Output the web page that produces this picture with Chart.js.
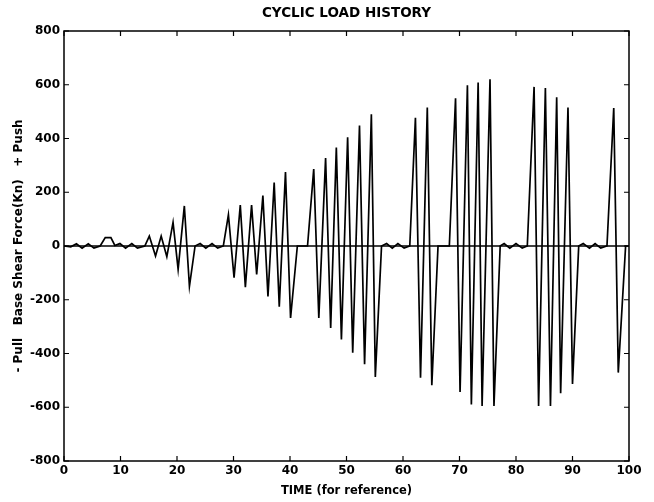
<!DOCTYPE html>
<html>
<head>
<meta charset="utf-8">
<title>Cyclic Load History</title>
<script src="https://cdn.jsdelivr.net/npm/chart.js@4.4.1/dist/chart.umd.min.js"></script>
<style>
    body { margin: 0; background: #fff; }
    canvas { display: block; }
</style>
</head>
<body>
<canvas id="loadChart" width="654" height="502"></canvas>
<script>
// Time samples (for reference) and base shear force (kN)
const times = [
    0, 1.2, 2.2, 3.2, 4.3, 5.3, 6.4, 7.3, 8.3, 9.0,
    9.9, 10.9, 12.0, 13.0, 14.3, 15.1, 16.2, 17.2, 18.2, 19.3,
    20.2, 21.3, 22.2, 23.2, 24.1, 25.1, 26.2, 27.2, 28.2, 29.1,
    30.1, 31.2, 32.1, 33.2, 34.1, 35.2, 36.1, 37.2, 38.1, 39.2,
    40.1, 41.3, 43.1, 44.2, 45.1, 46.3, 47.2, 48.2, 49.1, 50.2,
    51.1, 52.3, 53.2, 54.4, 55.1, 56.2, 57.1, 58.1, 59.1, 60.2,
    61.2, 62.2, 63.1, 64.3, 65.1, 66.2, 68.2, 69.3, 70.1, 71.4,
    72.1, 73.3, 74.0, 75.4, 76.1, 77.2, 77.9, 78.9, 80.0, 81.1,
    82.0, 83.2, 84.0, 85.2, 86.1, 87.2, 87.9, 89.2, 90.0, 91.1,
    91.9, 93.0, 94.0, 95.0, 96.1, 97.3, 98.1, 99.4, 99.8
];
const forces = [
    0, -3, 8, -8, 8, -8, 0, 31, 31, 2,
    9, -8, 9, -8, 0, 37, -37, 37, -40, 88,
    -87, 149, -150, 0, 9, -8, 9, -8, 0, 116,
    -118, 152, -153, 152, -106, 188, -188, 236, -226, 275,
    -268, 0, 0, 286, -268, 327, -305, 366, -348, 405,
    -397, 448, -440, 490, -487, 0, 9, -8, 9, -8,
    0, 477, -490, 515, -518, 0, 0, 550, -543, 598,
    -590, 608, -595, 620, -595, 0, 9, -8, 9, -8,
    0, 592, -595, 588, -595, 553, -548, 515, -513, 0,
    9, -8, 9, -8, 0, 513, -471, 0, 0
];

// Reference line at zero force
const zeroTimes = [0, 100];
const zeroForces = [0, 0];

const xTicks = [0, 10, 20, 30, 40, 50, 60, 70, 80, 90, 100];
const yTicks = [-800, -600, -400, -200, 0, 200, 400, 600, 800];

const FONT = "'DejaVu Sans', Verdana, sans-serif";

// Box around the plot with inward tick marks on all four sides
const frameTicks = {
    id: 'frameTicks',
    afterDatasetsDraw(chart) {
        const { ctx, chartArea: a, scales: { x, y } } = chart;
        ctx.save();
        ctx.strokeStyle = '#000';
        ctx.lineWidth = 1.5;
        ctx.strokeRect(a.left, a.top, a.right - a.left, a.bottom - a.top);
        ctx.lineWidth = 1.2;
        ctx.beginPath();
        xTicks.forEach(v => {
            const px = x.getPixelForValue(v);
            ctx.moveTo(px, a.bottom); ctx.lineTo(px, a.bottom - 5);
            ctx.moveTo(px, a.top); ctx.lineTo(px, a.top + 5);
        });
        yTicks.forEach(v => {
            const py = y.getPixelForValue(v);
            ctx.moveTo(a.left, py); ctx.lineTo(a.left + 5, py);
            ctx.moveTo(a.right, py); ctx.lineTo(a.right - 5, py);
        });
        ctx.stroke();
        ctx.restore();
    }
};

function createChart() {
    const ctx = document.getElementById('loadChart').getContext('2d');

    new Chart(ctx, {
        type: 'line',
        data: {
            datasets: [
                {
                    label: 'Base shear',
                    data: times.map((t, i) => ({ x: t, y: forces[i] })),
                    borderColor: '#000',
                    borderWidth: 1.7,
                    pointRadius: 0,
                    tension: 0,
                    fill: false
                },
                {
                    label: 'Zero',
                    data: zeroTimes.map((t, i) => ({ x: t, y: zeroForces[i] })),
                    borderColor: '#000',
                    borderWidth: 1.7,
                    pointRadius: 0,
                    fill: false
                }
            ]
        },
        options: {
            responsive: false,
            animation: false,
            layout: {
                padding: { top: 0, right: 25, bottom: 0, left: 0 }
            },
            scales: {
                x: {
                    type: 'linear',
                    min: 0,
                    max: 100,
                    afterFit: scale => { scale.height = 41; },
                    afterBuildTicks: scale => {
                        scale.ticks = xTicks.map(v => ({ value: v }));
                    },
                    grid: { display: false, drawTicks: false },
                    border: { display: false },
                    ticks: {
                        padding: 3,
                        maxRotation: 0,
                        color: '#000',
                        font: { family: FONT, size: 12, weight: 'bold' }
                    },
                    title: {
                        display: true,
                        text: 'TIME (for reference)',
                        color: '#000',
                        padding: { top: 0, bottom: 4 },
                        font: { family: FONT, size: 11.5, weight: 'bold' }
                    }
                },
                // top axis only carries the chart title, centred over the plot
                top: {
                    type: 'linear',
                    position: 'top',
                    min: 0,
                    max: 100,
                    afterFit: scale => { scale.height = 31; },
                    grid: { display: false, drawTicks: false },
                    border: { display: false },
                    ticks: { display: false },
                    title: {
                        display: true,
                        text: 'CYCLIC LOAD HISTORY',
                        color: '#000',
                        padding: { top: 5, bottom: 0 },
                        font: { family: FONT, size: 13.5, weight: 'bold' }
                    }
                },
                y: {
                    type: 'linear',
                    min: -800,
                    max: 800,
                    afterFit: scale => { scale.width = 64; },
                    afterBuildTicks: scale => {
                        scale.ticks = yTicks.map(v => ({ value: v }));
                    },
                    grid: { display: false, drawTicks: false },
                    border: { display: false },
                    ticks: {
                        padding: 4,
                        color: '#000',
                        font: { family: FONT, size: 12, weight: 'bold' }
                    },
                    title: {
                        display: true,
                        text: '- Pull   Base Shear Force(Kn)   + Push',
                        color: '#000',
                        padding: { top: 12, bottom: 0 },
                        font: { family: FONT, size: 12, weight: 'bold' }
                    }
                }
            },
            plugins: {
                legend: { display: false },
                tooltip: { enabled: false },
                title: { display: false }
            }
        },
        plugins: [frameTicks]
    });
}

document.addEventListener('DOMContentLoaded', function() {
    createChart();
});
</script>
</body>
</html>
